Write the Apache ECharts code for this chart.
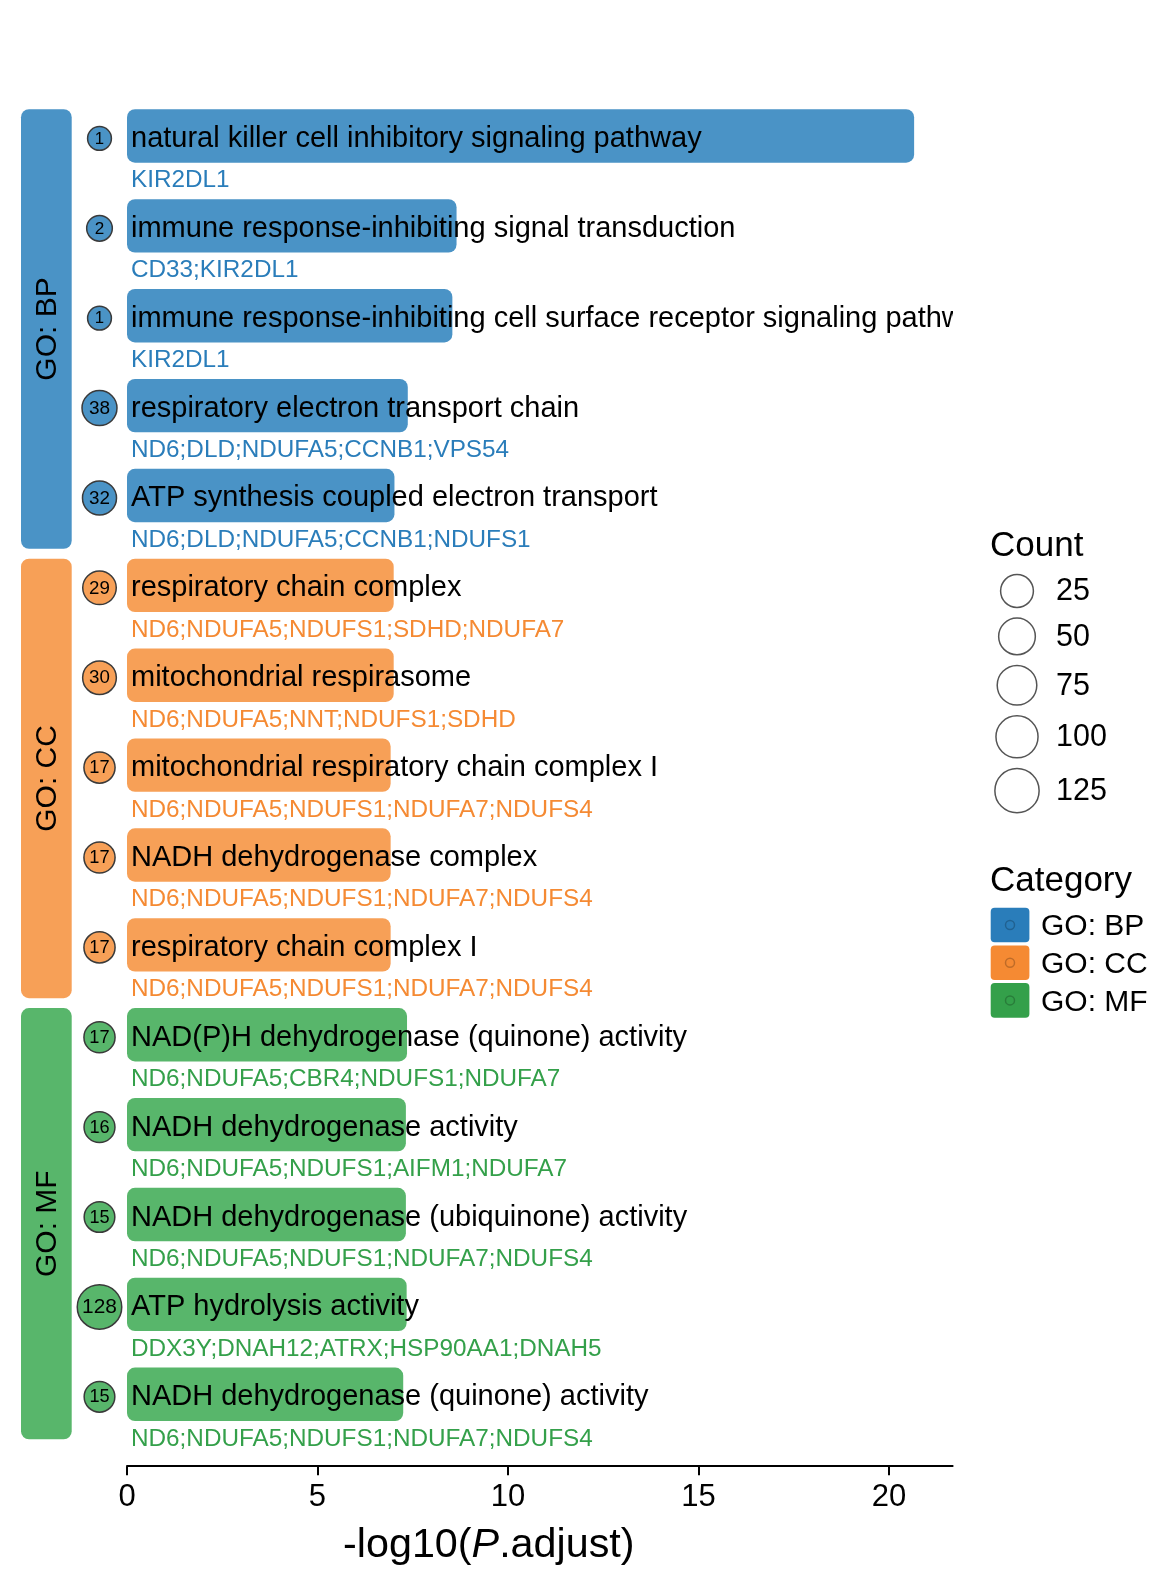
<!DOCTYPE html>
<html><head><meta charset="utf-8">
<script src="https://cdn.jsdelivr.net/npm/echarts@6/dist/echarts.min.js"></script>
<style>html,body{margin:0;padding:0;background:#fff;overflow:hidden;width:1170px;height:1584px}#c{width:1170px;height:1584px;display:block}</style>
</head><body><div id="c"></div>
<script>
const terms = [
  'natural killer cell inhibitory signaling pathway',
  'immune response-inhibiting signal transduction',
  'immune response-inhibiting cell surface receptor signaling pathway',
  'respiratory electron transport chain',
  'ATP synthesis coupled electron transport',
  'respiratory chain complex',
  'mitochondrial respirasome',
  'mitochondrial respiratory chain complex I',
  'NADH dehydrogenase complex',
  'respiratory chain complex I',
  'NAD(P)H dehydrogenase (quinone) activity',
  'NADH dehydrogenase activity',
  'NADH dehydrogenase (ubiquinone) activity',
  'ATP hydrolysis activity',
  'NADH dehydrogenase (quinone) activity'
];
const genes = [
  'KIR2DL1',
  'CD33;KIR2DL1',
  'KIR2DL1',
  'ND6;DLD;NDUFA5;CCNB1;VPS54',
  'ND6;DLD;NDUFA5;CCNB1;NDUFS1',
  'ND6;NDUFA5;NDUFS1;SDHD;NDUFA7',
  'ND6;NDUFA5;NNT;NDUFS1;SDHD',
  'ND6;NDUFA5;NDUFS1;NDUFA7;NDUFS4',
  'ND6;NDUFA5;NDUFS1;NDUFA7;NDUFS4',
  'ND6;NDUFA5;NDUFS1;NDUFA7;NDUFS4',
  'ND6;NDUFA5;CBR4;NDUFS1;NDUFA7',
  'ND6;NDUFA5;NDUFS1;AIFM1;NDUFA7',
  'ND6;NDUFA5;NDUFS1;NDUFA7;NDUFS4',
  'DDX3Y;DNAH12;ATRX;HSP90AA1;DNAH5',
  'ND6;NDUFA5;NDUFS1;NDUFA7;NDUFS4'
];
const categories = ['GO: BP','GO: BP','GO: BP','GO: BP','GO: BP',
  'GO: CC','GO: CC','GO: CC','GO: CC','GO: CC',
  'GO: MF','GO: MF','GO: MF','GO: MF','GO: MF'];
const counts = [1, 2, 1, 38, 32, 29, 30, 17, 17, 17, 17, 16, 15, 128, 15];
const values = [20.66, 8.65, 8.54, 7.37, 7.02, 7.00, 7.00, 6.92, 6.92, 6.92, 7.35, 7.32, 7.32, 7.34, 7.25];
const groupNames = ['GO: BP', 'GO: CC', 'GO: MF'];
const xTicks = [0, 5, 10, 15, 20];
const countBreaks = [25, 50, 75, 100, 125];

const FONT = '"Liberation Sans", Arial, Helvetica, sans-serif';
const barColor = {'GO: BP': '#4A93C6', 'GO: CC': '#F7A057', 'GO: MF': '#58B66B'};
const fullColor = {'GO: BP': '#2A7DBA', 'GO: CC': '#F58A33', 'GO: MF': '#34A04A'};
const BAR_HALF = 0.297, GENE_OFF = 0.486;
const Y_MIN = -0.4, Y_MAX = 14.8, X_MAX = 21.67;

const cMin = Math.min(...counts), cMax = Math.max(...counts);
function diam(c) { return 25.3 + 20.7 * Math.sqrt(Math.max(0, (c - cMin) / (cMax - cMin))); }

// groups from categories
const groups = [];
categories.forEach((c, i) => {
  const g = groups.find(x => x.name === c);
  if (g) g.end = i; else groups.push({name: c, start: i, end: i});
});

const chart = echarts.init(document.getElementById('c'), null, {renderer: 'canvas', width: 1170, height: 1584});

// legend graphics
const legendEls = [];
legendEls.push({type: 'text', left: 990, top: 529, style: {text: 'Count', fontSize: 35, fontFamily: FONT, fill: '#000'}});
let cy = 591;
countBreaks.forEach((b, k) => {
  const d = diam(b);
  if (k > 0) cy += (diam(countBreaks[k - 1]) + d) / 2 + 9.2;
  legendEls.push({type: 'circle', shape: {cx: 1017, cy: cy, r: d / 2 - 0.75}, style: {fill: '#fff', stroke: '#555', lineWidth: 1.5}});
  legendEls.push({type: 'text', x: 1056, y: cy + 1, style: {text: String(b), fontSize: 30.5, fontFamily: FONT, fill: '#000', verticalAlign: 'middle'}});
});
legendEls.push({type: 'text', left: 990, top: 864, style: {text: 'Category', fontSize: 35, fontFamily: FONT, fill: '#000'}});
groupNames.forEach((g, k) => {
  const kc = 925 + k * 37.7;
  legendEls.push({type: 'rect', shape: {x: 990.7, y: kc - 17.3, width: 38.7, height: 34.6, r: 4}, style: {fill: fullColor[g]}});
  legendEls.push({type: 'circle', shape: {cx: 1010, cy: kc, r: 4.5}, style: {fill: 'none', stroke: 'rgba(0,0,0,0.22)', lineWidth: 1.5}});
  legendEls.push({type: 'text', x: 1041, y: kc + 2, style: {text: g, fontSize: 30, fontFamily: FONT, fill: '#000', verticalAlign: 'middle'}});
});

const option = {
  animation: false,
  backgroundColor: '#fff',
  grid: {left: 127, top: 100, width: 825.6, height: 1366.2, containLabel: false, outerBoundsMode: 'none'},
  xAxis: {
    type: 'value', min: 0, max: X_MAX, interval: 5,
    axisLine: {show: true, onZero: false, lineStyle: {color: '#000', width: 2}},
    axisTick: {show: true, length: 9, lineStyle: {color: '#000', width: 2}, customValues: xTicks},
    axisLabel: {fontSize: 31, color: '#000', fontFamily: FONT, margin: 16, customValues: xTicks},
    splitLine: {show: false},
    name: '{a|-log10(}{b|P}{a|.adjust)}',
    nameLocation: 'middle', nameGap: 59,
    nameTextStyle: {padding: [0, 102, 0, 0], rich: {
      a: {fontSize: 41.3, fontFamily: FONT, color: '#000'},
      b: {fontSize: 41.3, fontFamily: FONT, color: '#000', fontStyle: 'italic'}
    }}
  },
  yAxis: {type: 'value', inverse: true, min: Y_MIN, max: Y_MAX, show: false},
  graphic: legendEls,
  series: [
    {
      type: 'custom', name: 'strips', silent: true, clip: false,
      data: groups.map(g => [0, g.start, g.end]),
      encode: {x: 0, y: 1},
      renderItem(params, api) {
        const g = groups[params.dataIndex];
        const topV = g.start - BAR_HALF;
        const botV = Math.min(g.end + 1 - BAR_HALF - 0.11, Y_MAX - 0.3);
        const p0 = api.coord([0, topV]);
        const p1 = api.coord([0, botV]);
        const x = p0[0] - 106;
        return {type: 'group', children: [
          {type: 'rect', shape: {x: x, y: p0[1], width: 50.7, height: p1[1] - p0[1], r: 8}, style: {fill: barColor[g.name]}},
          {type: 'text', x: x + 27, y: (p0[1] + p1[1]) / 2, rotation: Math.PI / 2,
            style: {text: g.name, fontSize: 30, fontFamily: FONT, fill: '#000', align: 'center', verticalAlign: 'middle'}}
        ]};
      }
    },
    {
      type: 'custom', name: 'bars', silent: true, clip: true,
      data: values.map((v, i) => [v, i]),
      encode: {x: 0, y: 1},
      renderItem(params, api) {
        const v = api.value(0), i = api.value(1);
        const p0 = api.coord([0, i - BAR_HALF]);
        const p1 = api.coord([v, i + BAR_HALF]);
        const right = api.coord([X_MAX, i])[0];
        const tx = p0[0] + 4;
        return {type: 'group', children: [
          {type: 'rect', shape: {x: p0[0], y: p0[1], width: p1[0] - p0[0], height: p1[1] - p0[1], r: 8}, style: {fill: barColor[categories[i]]}},
          {type: 'text',
            clipPath: {type: 'rect', shape: {x: p0[0] - 5, y: p0[1] - 20, width: right - p0[0] + 8, height: p1[1] - p0[1] + 40}},
            style: {text: terms[i], x: tx, y: (p0[1] + p1[1]) / 2 + 3, fill: '#000', fontSize: 29, fontFamily: FONT, align: 'left', verticalAlign: 'middle'}}
        ]};
      }
    },
    {
      type: 'custom', name: 'genes', silent: true, clip: false,
      data: values.map((v, i) => [0, i]),
      encode: {x: 0, y: 1},
      renderItem(params, api) {
        const i = api.value(1);
        const p = api.coord([0, i + GENE_OFF]);
        return {type: 'text', style: {text: genes[i], x: p[0] + 4, y: p[1] + 1, fill: fullColor[categories[i]], fontSize: 24.3, fontFamily: FONT, align: 'left', verticalAlign: 'middle'}};
      }
    },
    {
      type: 'custom', name: 'counts', silent: true, clip: false,
      data: counts.map((c, i) => [0, i, c]),
      encode: {x: 0, y: 1},
      renderItem(params, api) {
        const i = api.value(1), c = api.value(2);
        const p = api.coord([0, i]);
        const r = diam(c) / 2 - 0.75;
        return {type: 'group', children: [
          {type: 'circle', shape: {cx: p[0] - 27.5, cy: p[1] + 2.5, r: r}, style: {fill: barColor[categories[i]], stroke: '#3a3a3a', lineWidth: 1.5}},
          {type: 'text', style: {text: String(c), x: p[0] - 27.5, y: p[1] + 3, fill: '#000', fontSize: 12 + r * 0.4, fontFamily: FONT, align: 'center', verticalAlign: 'middle'}}
        ]};
      }
    }
  ]
};
chart.setOption(option);
</script>
</body></html>
